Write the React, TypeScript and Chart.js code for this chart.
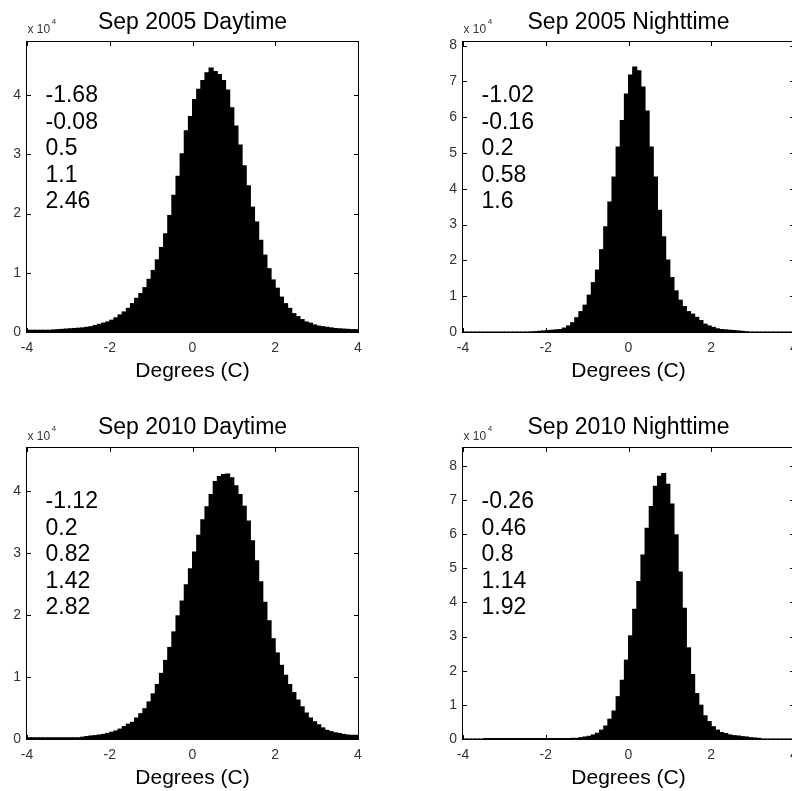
import React, { useEffect, useRef } from "react";
import { Chart, registerables } from "chart.js";

Chart.register(...registerables);

// Histogram bin centres (degrees C), bin width 0.1 from -4 to 4
const binCenters = [
  -3.95, -3.85, -3.75, -3.65, -3.55, -3.45, -3.35, -3.25, -3.15, -3.05,
  -2.95, -2.85, -2.75, -2.65, -2.55, -2.45, -2.35, -2.25, -2.15, -2.05,
  -1.95, -1.85, -1.75, -1.65, -1.55, -1.45, -1.35, -1.25, -1.15, -1.05,
  -0.95, -0.85, -0.75, -0.65, -0.55, -0.45, -0.35, -0.25, -0.15, -0.05,
  0.05, 0.15, 0.25, 0.35, 0.45, 0.55, 0.65, 0.75, 0.85, 0.95,
  1.05, 1.15, 1.25, 1.35, 1.45, 1.55, 1.65, 1.75, 1.85, 1.95,
  2.05, 2.15, 2.25, 2.35, 2.45, 2.55, 2.65, 2.75, 2.85, 2.95,
  3.05, 3.15, 3.25, 3.35, 3.45, 3.55, 3.65, 3.75, 3.85, 3.95,
];

// Counts in units of 10^4
const sep2005Day = [
  0.03, 0.03, 0.03, 0.03, 0.03, 0.03, 0.035, 0.04, 0.045, 0.05,
  0.055, 0.06, 0.065, 0.07, 0.08, 0.09, 0.11, 0.13, 0.15, 0.17,
  0.2, 0.24, 0.29, 0.34, 0.4, 0.48, 0.57, 0.65, 0.75, 0.89,
  1.04, 1.22, 1.43, 1.66, 1.97, 2.31, 2.63, 3.01, 3.4, 3.64,
  3.93, 4.1, 4.25, 4.38, 4.46, 4.4, 4.35, 4.25, 4.09, 3.79,
  3.48, 3.16, 2.81, 2.47, 2.11, 1.86, 1.55, 1.3, 1.07, 0.88,
  0.74, 0.59, 0.48, 0.4, 0.31, 0.26, 0.21, 0.17, 0.15, 0.12,
  0.1, 0.09, 0.08, 0.07, 0.06, 0.055, 0.05, 0.045, 0.04, 0.04,
];

const sep2005Night = [
  0, 0, 0, 0, 0, 0, 0, 0, 0, 0,
  0, 0, 0, 0, 0, 0, 0.005, 0.01, 0.02, 0.03,
  0.04, 0.05, 0.06, 0.07, 0.11, 0.17, 0.26, 0.4, 0.57, 0.75,
  1.03, 1.38, 1.73, 2.3, 2.94, 3.63, 4.33, 5.17, 5.91, 6.65,
  7.18, 7.4, 7.3, 6.84, 6.17, 5.17, 4.33, 3.4, 2.66, 2.01,
  1.52, 1.15, 0.89, 0.71, 0.57, 0.5, 0.41, 0.32, 0.22, 0.17,
  0.13, 0.09, 0.07, 0.06, 0.05, 0.04, 0.03, 0.02, 0.01, 0,
  0, 0, 0, 0, 0, 0, 0, 0, 0, 0,
];

const sep2010Day = [
  0.02, 0.02, 0.02, 0.02, 0.02, 0.02, 0.02, 0.02, 0.02, 0.02,
  0.02, 0.02, 0.02, 0.03, 0.04, 0.05, 0.055, 0.065, 0.075, 0.09,
  0.11, 0.13, 0.16, 0.2, 0.24, 0.27, 0.34, 0.41, 0.49, 0.6,
  0.73, 0.88, 1.06, 1.27, 1.48, 1.73, 1.99, 2.23, 2.49, 2.75,
  3.02, 3.29, 3.54, 3.75, 3.95, 4.16, 4.24, 4.27, 4.28, 4.22,
  4.09, 3.95, 3.76, 3.52, 3.2, 2.88, 2.54, 2.21, 1.91, 1.62,
  1.39, 1.19, 1.03, 0.88, 0.75, 0.63, 0.52, 0.42, 0.34, 0.28,
  0.23, 0.18, 0.14, 0.12, 0.1, 0.09, 0.075, 0.065, 0.06, 0.06,
];

const sep2010Night = [
  0, 0, 0, 0, 0, 0.015, 0.015, 0.015, 0.015, 0.015,
  0.015, 0.015, 0.015, 0.015, 0.015, 0.015, 0.015, 0.015, 0.015, 0.015,
  0.015, 0.015, 0.015, 0.015, 0.015, 0.015, 0.02, 0.02, 0.04, 0.06,
  0.08, 0.12, 0.17, 0.26, 0.38, 0.58, 0.82, 1.24, 1.72, 2.31,
  3.02, 3.8, 4.61, 5.39, 6.17, 6.81, 7.4, 7.69, 7.77, 7.46,
  6.88, 5.98, 4.89, 3.83, 2.67, 1.89, 1.33, 0.99, 0.68, 0.51,
  0.36, 0.26, 0.19, 0.16, 0.12, 0.1, 0.09, 0.07, 0.06, 0.04,
  0.03, 0.02, 0, 0, 0, 0, 0, 0, 0, 0,
];

const panelTitles = [
  "Sep 2005 Daytime",
  "Sep 2005 Nighttime",
  "Sep 2010 Daytime",
  "Sep 2010 Nighttime",
];

const stats2005Day = ["-1.68", "-0.08", "0.5", "1.1", "2.46"];
const stats2005Night = ["-1.02", "-0.16", "0.2", "0.58", "1.6"];
const stats2010Day = ["-1.12", "0.2", "0.82", "1.42", "2.82"];
const stats2010Night = ["-0.26", "0.46", "0.8", "1.14", "1.92"];

const yMaxValues = [4.9, 8.1, 4.7, 8.52];
const xRange = [-4, 4];
const xStep = 2;
const yStep = 1;
const xAxisTitle = "Degrees (C)";
const yScaleBase = "x 10";
const yScaleExp = "4";

const FONT = '"Liberation Sans", Arial, Helvetica, sans-serif';

type PanelCfg = {
  left: number;
  top: number;
  width: number;
  height: number;
  areaL: number;
  areaT: number;
  areaR: number;
  areaB: number;
  titleGap: number;
  scaleGap: number;
  values: number[];
  stats: string[];
  title: string;
  yMax: number;
};

const panels: PanelCfg[] = [
  { left: 0, top: 0, width: 396, height: 396, areaL: 27, areaT: 42, areaR: 358, areaB: 332, titleGap: 13, scaleGap: 9, values: sep2005Day, stats: stats2005Day, title: panelTitles[0], yMax: yMaxValues[0] },
  { left: 396, top: 0, width: 410, height: 396, areaL: 67, areaT: 42, areaR: 398, areaB: 332, titleGap: 13.5, scaleGap: 9, values: sep2005Night, stats: stats2005Night, title: panelTitles[1], yMax: yMaxValues[1] },
  { left: 0, top: 396, width: 396, height: 395, areaL: 27, areaT: 52, areaR: 358, areaB: 343, titleGap: 14.5, scaleGap: 8, values: sep2010Day, stats: stats2010Day, title: panelTitles[2], yMax: yMaxValues[2] },
  { left: 396, top: 396, width: 410, height: 395, areaL: 67, areaT: 52, areaR: 398, areaB: 343, titleGap: 14.5, scaleGap: 8, values: sep2010Night, stats: stats2010Night, title: panelTitles[3], yMax: yMaxValues[3] },
];

function HistPanel({ cfg }: { cfg: PanelCfg }) {
  const ref = useRef<HTMLCanvasElement | null>(null);

  useEffect(() => {
    const canvas = ref.current;
    if (!canvas) return;

    const deco = {
      id: "matlabDeco",
      afterDraw(chart: any) {
        const { ctx, chartArea: a, scales } = chart;
        ctx.save();
        // box
        ctx.strokeStyle = "#000";
        ctx.lineWidth = 1;
        ctx.strokeRect(a.left - 0.5, a.top - 0.5, a.right - a.left + 1, a.bottom - a.top + 1);
        // inner tick marks
        const tl = 4;
        ctx.beginPath();
        scales.x.ticks.forEach((t: any) => {
          const px = Math.round(scales.x.getPixelForValue(t.value)) + 0.5;
          ctx.moveTo(px, a.top);
          ctx.lineTo(px, a.top + tl);
          ctx.moveTo(px, a.bottom);
          ctx.lineTo(px, a.bottom - tl);
        });
        scales.y.ticks.forEach((t: any) => {
          const py = Math.round(scales.y.getPixelForValue(t.value)) + 0.5;
          ctx.moveTo(a.left, py);
          ctx.lineTo(a.left + tl, py);
          ctx.moveTo(a.right, py);
          ctx.lineTo(a.right - tl, py);
        });
        ctx.stroke();

        // title
        ctx.fillStyle = "#000";
        ctx.textAlign = "center";
        ctx.textBaseline = "alphabetic";
        ctx.font = `23px ${FONT}`;
        ctx.fillText(cfg.title, (a.left + a.right) / 2, a.top - cfg.titleGap);

        // x axis title
        ctx.font = `21px ${FONT}`;
        ctx.fillText(xAxisTitle, (a.left + a.right) / 2, a.bottom + 45);

        // scale factor x 10^4
        ctx.fillStyle = "#333";
        ctx.textAlign = "left";
        ctx.font = `12px ${FONT}`;
        const sx = a.left + 0.5;
        const sy = a.top - cfg.scaleGap;
        ctx.fillText(yScaleBase, sx, sy);
        const w = ctx.measureText(yScaleBase).width;
        ctx.font = `8px ${FONT}`;
        ctx.fillText(yScaleExp, sx + w + 1.5, sy - 9);

        // statistics annotation
        ctx.fillStyle = "#000";
        ctx.font = `23px ${FONT}`;
        cfg.stats.forEach((s, k) => {
          ctx.fillText(s, a.left + 18.5, a.top + 60 + k * 26.6);
        });
        ctx.restore();
      },
    };

    const chart = new Chart(canvas, {
      type: "bar",
      data: {
        datasets: [
          {
            data: binCenters.map((x, i) => ({ x, y: cfg.values[i] })),
            backgroundColor: "#000",
            borderWidth: 0,
            barPercentage: 1,
            categoryPercentage: 1,
            inflateAmount: 0.5,
          } as any,
        ],
      },
      options: {
        responsive: false,
        animation: false,
        devicePixelRatio: 1,
        layout: {
          padding: { left: 0, top: cfg.areaT, right: cfg.width - cfg.areaR, bottom: 0 },
        },
        plugins: {
          legend: { display: false },
          tooltip: { enabled: false },
          title: { display: false },
        },
        scales: {
          x: {
            type: "linear",
            min: xRange[0],
            max: xRange[1],
            offset: false,
            grid: { display: false, drawTicks: false, offset: false } as any,
            border: { display: false },
            ticks: {
              stepSize: xStep,
              padding: 8,
              maxRotation: 0,
              autoSkip: false,
              color: "#333",
              font: { family: FONT, size: 14 },
            },
            afterFit: (s: any) => {
              s.height = cfg.height - cfg.areaB;
            },
          } as any,
          y: {
            type: "linear",
            min: 0,
            max: cfg.yMax,
            grid: { display: false, drawTicks: false },
            border: { display: false },
            ticks: {
              stepSize: yStep,
              includeBounds: false,
              padding: 6,
              color: "#333",
              font: { family: FONT, size: 14 },
            },
            afterFit: (s: any) => {
              s.width = cfg.areaL;
            },
          } as any,
        },
      },
      plugins: [deco],
    });

    return () => chart.destroy();
  }, [cfg]);

  return (
    <canvas
      ref={ref}
      width={cfg.width}
      height={cfg.height}
      style={{
        position: "absolute",
        left: cfg.left,
        top: cfg.top,
        width: cfg.width,
        height: cfg.height,
        display: "block",
      }}
    />
  );
}

export default function App() {
  return (
    <div
      style={{
        position: "absolute",
        left: 0,
        top: 0,
        width: 792,
        height: 791,
        overflow: "hidden",
        background: "#fff",
      }}
    >
      {panels.map((p, i) => (
        <HistPanel key={i} cfg={p} />
      ))}
    </div>
  );
}
